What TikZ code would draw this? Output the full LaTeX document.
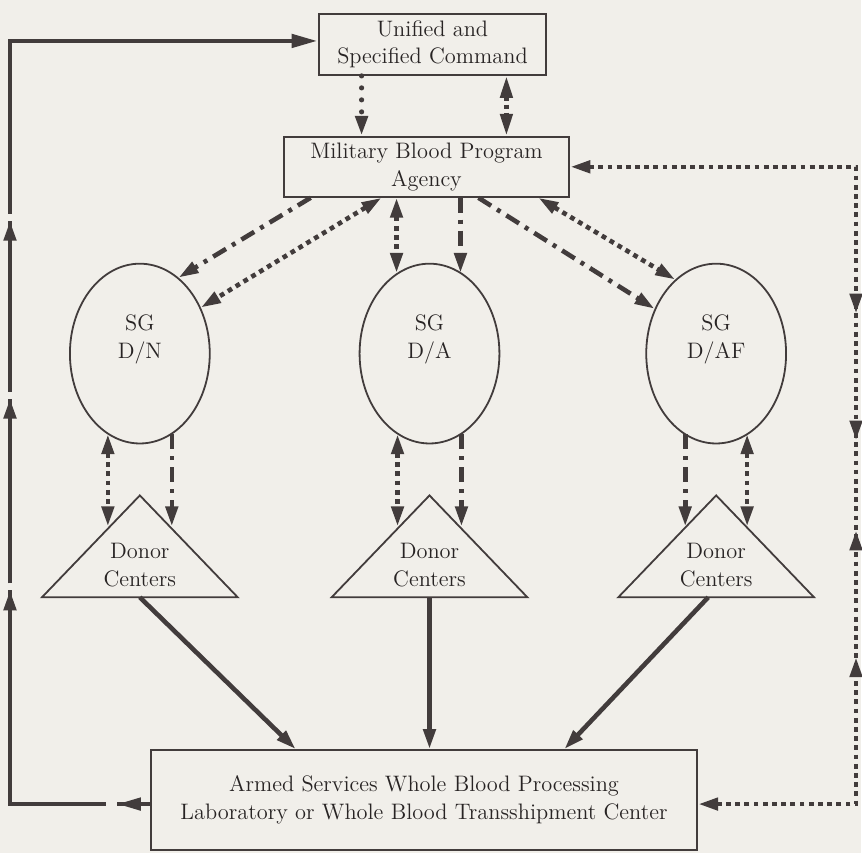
\documentclass[tikz,border=0pt]{standalone}
\usetikzlibrary{arrows.meta,decorations.markings,calc,shapes.geometric}
\definecolor{bgc}{RGB}{241,239,234}
\definecolor{ink}{RGB}{66,60,60}
\definecolor{txtc}{RGB}{40,36,36}
\begin{document}
\begin{tikzpicture}[x=0.5pt,y=-0.5pt,
  >={Triangle[length=10pt,width=6pt]},
  txtfont/.style={font=\fontsize{11.2}{13.8}\selectfont},
  box/.style={draw=ink,line width=1pt,inner sep=0pt,align=center,text=txtc,txtfont},
  sgnode/.style={draw=ink,line width=0.9pt,ellipse,minimum width=70pt,minimum height=90pt,inner sep=0pt},
  lbl/.style={inner sep=0pt,align=center,text=txtc,txtfont},
  tri/.style={draw=ink,line width=0.9pt,line join=miter},
  conn/.style={draw=ink,line width=2.3pt},
  solidc/.style={conn},
  dashdot/.style={conn,dash pattern=on 7.5pt off 3.5pt on 2pt off 3.5pt},
  sqdot/.style={conn,dash pattern=on 2.4pt off 2.2pt},
  rdot/.style={conn,line width=2.6pt,line cap=round,dash pattern=on 0pt off 6pt},
]
\path[fill=bgc] (0,0) rectangle (862,854);

% boxes
\node[box,minimum width=114pt,minimum height=30.5pt] (uni) at (433,44.5) {Unified and\\Specified Command};
\node[box,minimum width=143pt,minimum height=30pt] (mbpa) at (427,167) {Military Blood Program\\Agency};
\node[box,minimum width=273.5pt,minimum height=50pt] (asb) at (424.5,801) {Armed Services Whole Blood Processing\\Laboratory or Whole Blood Transshipment Center};

% surgeon general offices
\node[sgnode] (dn) at (140,354) {};
\node[sgnode] (da) at (430,354) {};
\node[sgnode] (daf) at (717,354) {};
\node[lbl] (dnt) at (140,340) {SG\\D/N};
\node[lbl] (dat) at (430,340) {SG\\D/A};
\node[lbl] (daft) at (717,340) {SG\\D/AF};

% donor centers
\coordinate (tnA) at (140,496); \coordinate (tnL) at (42,598); \coordinate (tnR) at (238,598);
\coordinate (taA) at (430,496); \coordinate (taL) at (332,598); \coordinate (taR) at (528,598);
\coordinate (tfA) at (717,496); \coordinate (tfL) at (619,598); \coordinate (tfR) at (815,598);
\draw[tri] (tnA) -- (tnL) -- (tnR) -- cycle;
\draw[tri] (taA) -- (taL) -- (taR) -- cycle;
\draw[tri] (tfA) -- (tfL) -- (tfR) -- cycle;
\node[lbl] (dnc) at (140,566) {Donor\\Centers};
\node[lbl] (dac) at (430,566) {Donor\\Centers};
\node[lbl] (dafc) at (717,566) {Donor\\Centers};

% Unified <-> MBPA
\coordinate (u1) at ($(uni.south west)+(44,0)$);
\draw[rdot,->] (u1) -- (u1 |- mbpa.north);
\coordinate (u2) at ($(uni.south west)+(189,0)$);
\draw[conn,{Triangle[length=11pt,width=6pt]}-{Triangle[length=11pt,width=6pt]},dash pattern=on 2pt off 2pt] (u2) -- (u2 |- mbpa.north);

% MBPA to SG offices
\draw[dashdot,->] ($(mbpa.south west)+(28,0)$) -- (dn.63);
\draw[sqdot,<->] ($(mbpa.south west)+(99,0)$) -- (dn.37);
\coordinate (a1) at ($(mbpa.south west)+(114,0)$);
\draw[sqdot,<->] (a1) -- (a1 |- da.112);
\coordinate (a2) at ($(mbpa.south west)+(178,0)$);
\draw[dashdot,->] (a2) -- (a2 |- da.68);
\draw[dashdot,->] ($(mbpa.south west)+(196,0)$) -- (daf.144);
\draw[sqdot,<->] ($(mbpa.south west)+(256,0)$) -- (daf.119);

% SG offices to donor centers
\coordinate (n1) at (108,527); \coordinate (n2) at (172,527);
\draw[sqdot,<->] (n1 |- dn.248) -- (n1);
\draw[dashdot,->] (n2 |- dn.292) -- (n2);
\coordinate (m1) at (398,527); \coordinate (m2) at (462,527);
\draw[sqdot,<->] (m1 |- da.248) -- (m1);
\draw[dashdot,->] (m2 |- da.292) -- (m2);
\coordinate (f1) at (686,527); \coordinate (f2) at (748,527);
\draw[dashdot,->] (f1 |- daf.248) -- (f1);
\draw[sqdot,<->] (f2 |- daf.292) -- (f2);

% donor centers to processing laboratory
\coordinate (tnb) at (140,598); \draw[solidc,->] (tnb) -- ($(asb.north west)+(146,0)$);
\coordinate (tab) at (430,598); \draw[solidc,->] (tab) -- (tab |- asb.north);
\coordinate (tfb) at (709,598); \draw[solidc,->] (tfb) -- ($(asb.north west)+(415,0)$);

% left feedback
\coordinate (lc1) at (10,805); \coordinate (lc2) at (10,41);
\draw[solidc,-{Triangle[length=13pt,width=6.5pt]},
  dash pattern=on 16.5pt off 5.5pt on 155pt off 3.5pt on 92.5pt off 3.5pt on 85.5pt off 3.5pt on 400pt,
  decoration={markings,
    mark=at position 16.5pt with {\arrow{Triangle[length=12pt,width=6pt]}},
    mark=at position 177pt with {\arrow{Triangle[length=10pt,width=6pt]}},
    mark=at position 273pt with {\arrow{Triangle[length=10pt,width=6pt]}},
    mark=at position 362pt with {\arrow{Triangle[length=10pt,width=6pt]}}},
  postaction={decorate,solid}]
  ($(asb.west)+(0,4)$) -- (lc1) -- (lc2) -- (lc2 -| uni.west);

% right feedback
\coordinate (rc1) at (857,167); \coordinate (rc2) at (857,805);
\draw[sqdot,<->,
  decoration={markings,
    mark=at position 216.5pt with {\arrow{>}},
    mark=at position 280pt with {\arrow{>}},
    mark=at position 325pt with {\arrowreversed{>}},
    mark=at position 388.5pt with {\arrowreversed{>}}},
  postaction={decorate,solid}]
  (mbpa.east) -- (rc1) -- (rc2) -- (rc2 -| asb.east);
\end{tikzpicture}
\end{document}
